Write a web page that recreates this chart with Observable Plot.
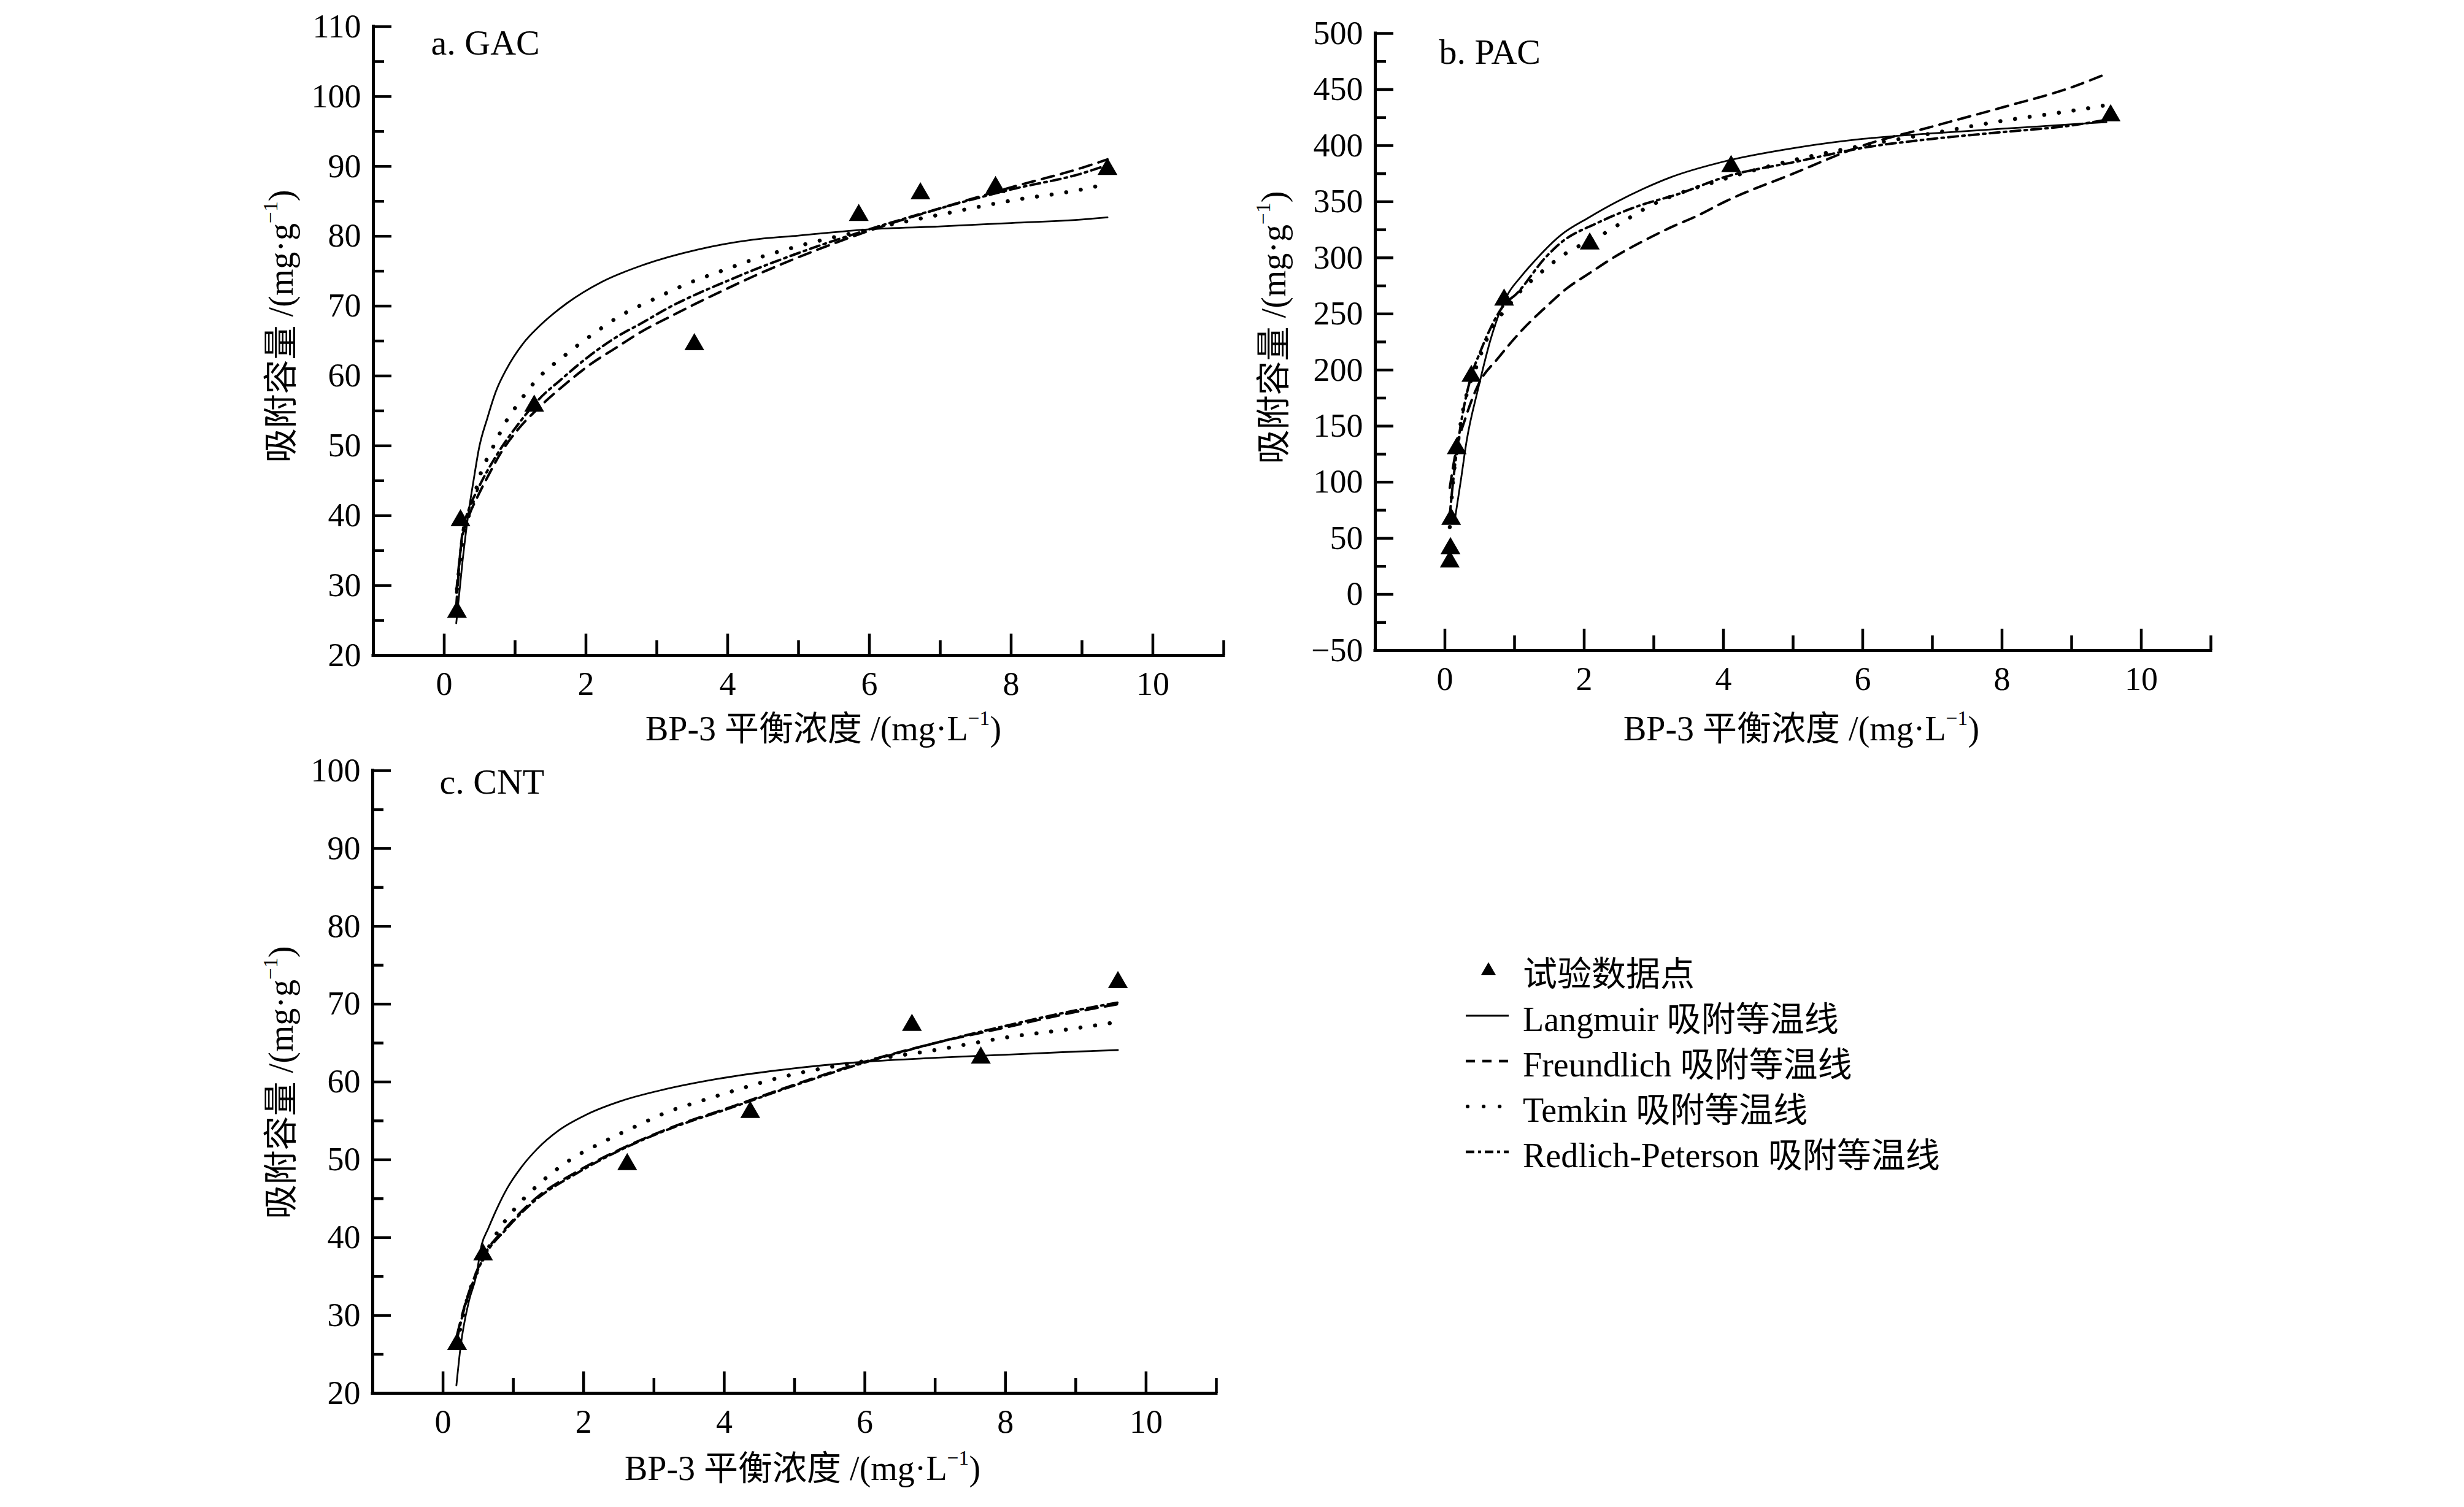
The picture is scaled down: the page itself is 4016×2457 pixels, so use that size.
<!DOCTYPE html>
<html>
<head>
<meta charset="utf-8">
<script src="https://cdn.jsdelivr.net/npm/d3@7"></script>
<script src="https://cdn.jsdelivr.net/npm/@observablehq/plot@0.6"></script>
<style>
  html, body { margin: 0; padding: 0; background: #fff; }
  #root { position: relative; width: 4016px; height: 2457px; background: #fff; overflow: hidden;
          font-family: "Liberation Serif", "Times New Roman", "Noto Sans CJK SC", serif; color: #000; }
  .panel { position: absolute; }
  .axlab { position: absolute; white-space: nowrap; font-size: 56px; line-height: 1; }
  .axlab sup { font-size: 0.6em; vertical-align: 0.75em; line-height: 0; }
  .legrow { position: absolute; left: 2380px; height: 74px; display: flex; align-items: center; font-size: 56px; white-space: nowrap; }
  .legrow svg { flex: none; margin-right: 22px; }
</style>
</head>
<body>
<div id="root"></div>
<script>
// ---------- tick values ----------
const xMajorTicks = [0, 2, 4, 6, 8, 10];
const xMinorTicks = [1, 3, 5, 7, 9, 11];
const aYTicks = [20, 30, 40, 50, 60, 70, 80, 90, 100, 110];
const aYMinor = [25, 35, 45, 55, 65, 75, 85, 95, 105];
const bYTicks = [-50, 0, 50, 100, 150, 200, 250, 300, 350, 400, 450, 500];
const bYMinor = [-25, 25, 75, 125, 175, 225, 275, 325, 375, 425, 475];
const cYTicks = [20, 30, 40, 50, 60, 70, 80, 90, 100];
const cYMinor = [25, 35, 45, 55, 65, 75, 85, 95];

// ---------- a. GAC ----------
const aDataX = [0.18, 0.23, 1.27, 3.53, 5.85, 6.72, 7.78, 9.36];
const aDataY = [26.2, 39.3, 55.7, 64.5, 83.0, 86.1, 87.0, 89.6];
const aLangX = [0.17, 0.26, 0.34, 0.42, 0.49, 0.61, 0.73, 0.88, 1.11, 1.34, 1.73, 2.23, 2.81, 3.58, 4.35, 5, 6, 7, 8, 9, 9.36];
const aLangY = [24.6, 33.6, 40.2, 45.4, 49.6, 54.0, 57.8, 61.0, 64.6, 67.1, 70.4, 73.5, 75.9, 78.1, 79.5, 80.1, 81.0, 81.4, 81.9, 82.4, 82.7];
const aFreuX = [0.17, 0.25, 0.35, 0.46, 0.61, 0.8, 1.03, 1.34, 1.73, 2.04, 2.42, 2.81, 3.19, 3.58, 3.97, 4.35, 5, 6, 7, 8, 9, 9.36];
const aFreuY = [29.0, 36.5, 40.0, 42.5, 45.5, 49.0, 52.2, 55.5, 59.0, 61.5, 64.0, 66.5, 68.5, 70.5, 72.4, 74.2, 77.0, 80.8, 84.0, 87.0, 89.8, 91.0];
const aTemkX = [0.18, 0.25, 0.4, 0.53, 0.65, 0.76, 0.88, 1.02, 1.3, 1.71, 2.1, 2.5, 2.96, 3.43, 3.93, 4.43, 4.93, 6, 7, 8, 9, 9.23];
const aTemkY = [29.5, 35.5, 41.8, 46.5, 49.0, 51.3, 53.6, 55.7, 59.4, 63.0, 66.0, 68.7, 71.0, 73.2, 75.1, 76.9, 78.4, 81.0, 83.1, 85.1, 86.7, 87.2];
const aRPX = [0.17, 0.25, 0.35, 0.46, 0.73, 1.03, 1.34, 1.65, 2.04, 2.42, 2.81, 3.19, 3.58, 3.97, 4.35, 5, 6, 7, 8, 9, 9.36];
const aRPY = [27.0, 37.0, 41.0, 43.5, 48.5, 52.9, 56.7, 59.5, 62.8, 65.5, 67.7, 69.9, 71.8, 73.5, 75.1, 77.6, 81.0, 84.0, 86.7, 89.0, 90.2];

// ---------- b. PAC ----------
const bDataX = [0.07, 0.08, 0.09, 0.17, 0.38, 0.85, 2.08, 4.11, 9.56];
const bDataY = [29, 41, 67, 130, 194.5, 262.5, 312.5, 381.5, 426.8];
const bLangX = [0.15, 0.23, 0.31, 0.48, 0.66, 0.89, 1.09, 1.28, 1.67, 2.07, 2.46, 2.85, 3.24, 4.02, 5.07, 6, 7, 8, 9, 9.5];
const bLangY = [69.5, 102, 136, 184, 228, 266, 283, 296.6, 320.5, 336, 349.6, 361.5, 371.7, 386, 398.4, 406, 411, 415, 419, 421];
const bFreuX = [0.07, 0.15, 0.3, 0.48, 0.77, 1.13, 1.44, 1.75, 2.07, 2.46, 2.85, 3.24, 3.63, 4.02, 5, 6, 7, 8, 9, 9.5];
const bFreuY = [95, 125, 158, 187, 211, 237, 255.6, 272.7, 286, 301.7, 315, 327, 337.6, 350, 375, 400, 417, 434, 452, 464];
const bTemkX = [0.07, 0.1, 0.2, 0.5, 1, 1.38, 1.75, 2.18, 3, 4, 5, 6, 7, 8, 9, 9.5];
const bTemkY = [60, 88, 141, 211, 264, 287, 304.5, 318, 348, 370, 387, 400, 411, 422, 431, 436];
const bRPX = [0.07, 0.1, 0.2, 0.38, 0.5, 0.85, 1.03, 1.44, 1.67, 2.18, 2.77, 3.36, 4.02, 5.07, 6, 7, 8, 9, 9.5];
const bRPY = [70, 90, 140, 195, 215, 258, 268, 300, 313.7, 330.8, 346, 357, 372, 386, 398, 406, 412, 418, 423];

// ---------- c. CNT ----------
const cDataX = [0.2, 0.57, 2.62, 4.37, 6.67, 7.65, 9.6];
const cDataY = [26.3, 37.8, 49.4, 56.1, 67.3, 63.1, 72.8];
const cLangX = [0.19, 0.25, 0.37, 0.47, 0.55, 0.64, 0.76, 0.91, 1.11, 1.34, 1.65, 2.04, 2.55, 3.13, 3.91, 4.95, 6, 7, 8, 9, 9.6];
const cLangY = [21, 26, 31.9, 35, 39.1, 41.1, 43.6, 46.3, 49, 51.4, 53.8, 55.8, 57.6, 59, 60.4, 61.7, 62.6, 63.1, 63.5, 63.9, 64.1];
const cFreuX = [0.2, 0.3, 0.45, 0.56, 0.91, 1.34, 1.89, 2.51, 3.29, 4.07, 4.95, 6, 7, 8, 9, 9.6];
const cFreuY = [27.5, 31, 35, 37.3, 41.4, 45.2, 48.4, 51.3, 54.3, 56.7, 59.5, 62.6, 65, 67, 69, 70];
const cTemkX = [0.2, 0.35, 0.525, 0.74, 1.03, 1.38, 1.81, 2.28, 2.74, 3.21, 3.72, 4.22, 4.72, 6, 7, 8, 9, 9.6];
const cTemkY = [26.3, 32.3, 36.4, 40.2, 43.8, 47, 50, 52.3, 54.3, 56.2, 57.7, 59.1, 60.4, 62.7, 64.1, 65.7, 66.9, 67.7];
const cRPX = [0.2, 0.3, 0.45, 0.56, 0.91, 1.34, 1.89, 2.51, 3.29, 4.07, 4.95, 6, 7, 8, 9, 9.6];
const cRPY = [27, 30.8, 34.8, 37.1, 41.2, 45, 48.2, 51.2, 54.2, 56.6, 59.4, 62.5, 65, 67.2, 69.2, 70.2];

const seriesNames = ["试验数据点", "Langmuir 吸附等温线", "Freundlich 吸附等温线", "Temkin 吸附等温线", "Redlich-Peterson 吸附等温线"];

// ---------- styles ----------
const FONT = '"Liberation Serif","Times New Roman","Noto Sans CJK SC",serif';
const tickFmt = d3.format("d");
const MARKER_R = 12;
const lineStyles = {
  lang: {strokeWidth: 2.8},
  freu: {strokeWidth: 4, strokeDasharray: "20 12"},
  temk: {strokeWidth: 6.5, strokeDasharray: "0.1 24", strokeLinecap: "round"},
  rp:   {strokeWidth: 4, strokeDasharray: "16 7 4 7"}
};
const zip = (xs, ys) => xs.map((x, i) => [x, ys[i]]);

function makePanel(cfg) {
  const curve = (xs, ys, st) => Plot.line(zip(xs, ys), {x: d => d[0], y: d => d[1], curve: "monotone-x", stroke: "#000", ...st});
  return Plot.plot({
    width: cfg.w, height: cfg.h,
    marginLeft: cfg.ml, marginRight: cfg.mr, marginTop: cfg.mt, marginBottom: cfg.mb,
    x: {domain: [-1, 11], label: null},
    y: {domain: cfg.yDomain, label: null},
    style: {fontFamily: FONT, fontSize: "54px", background: "transparent", overflow: "visible", color: "#000", maxWidth: "none"},
    marks: [
      Plot.axisY(cfg.yMinor, {tickSize: -18, tickFormat: () => "", strokeWidth: 4.5, label: null}),
      Plot.axisY(cfg.yMajor, {tickSize: -30, tickPadding: 50, tickFormat: tickFmt, strokeWidth: 4.5, label: null, fontSize: 54}),
      Plot.axisX(xMinorTicks, {tickSize: -24, tickFormat: () => "", strokeWidth: 4.5, label: null}),
      Plot.axisX(xMajorTicks, {tickSize: -35, tickPadding: 61, tickFormat: tickFmt, strokeWidth: 4.5, label: null, fontSize: 54}),
      Plot.ruleX([-1], {stroke: "#000", strokeWidth: 5, strokeLinecap: "square"}),
      Plot.ruleY([cfg.yDomain[0]], {stroke: "#000", strokeWidth: 5, strokeLinecap: "square"}),
      curve(cfg.langX, cfg.langY, lineStyles.lang),
      curve(cfg.freuX, cfg.freuY, lineStyles.freu),
      curve(cfg.temkX, cfg.temkY, lineStyles.temk),
      curve(cfg.rpX, cfg.rpY, lineStyles.rp),
      Plot.dot(zip(cfg.dataX, cfg.dataY), {x: d => d[0], y: d => d[1], symbol: "triangle", r: MARKER_R, fill: "#000", stroke: "none"}),
      Plot.text([cfg.label], {frameAnchor: "top-left", dx: cfg.ldx, dy: cfg.ldy, textAnchor: "start", lineAnchor: "middle", fontSize: 58})
    ]
  });
}

const root = document.getElementById("root");
function place(svg, left, top) {
  const d = document.createElement("div");
  d.className = "panel";
  d.style.left = left + "px"; d.style.top = top + "px";
  d.appendChild(svg);
  root.appendChild(d);
}

place(makePanel({w: 2100, h: 1240, ml: 608, mr: 106, mt: 43, mb: 172, yDomain: [20, 110], yMajor: aYTicks, yMinor: aYMinor,
  dataX: aDataX, dataY: aDataY, langX: aLangX, langY: aLangY, freuX: aFreuX, freuY: aFreuY, temkX: aTemkX, temkY: aTemkY, rpX: aRPX, rpY: aRPY,
  label: "a. GAC", ldx: 94, ldy: 27}), 0, 0);

place(makePanel({w: 1900, h: 1240, ml: 341, mr: 197, mt: 54, mb: 180, yDomain: [-50, 500], yMajor: bYTicks, yMinor: bYMinor,
  dataX: bDataX, dataY: bDataY, langX: bLangX, langY: bLangY, freuX: bFreuX, freuY: bFreuY, temkX: bTemkX, temkY: bTemkY, rpX: bRPX, rpY: bRPY,
  label: "b. PAC", ldx: 104, ldy: 31}), 1900, 0);

place(makePanel({w: 2100, h: 1180, ml: 607, mr: 118, mt: 56, mb: 109, yDomain: [20, 100], yMajor: cYTicks, yMinor: cYMinor,
  dataX: cDataX, dataY: cDataY, langX: cLangX, langY: cLangY, freuX: cFreuX, freuY: cFreuY, temkX: cTemkX, temkY: cTemkY, rpX: cRPX, rpY: cRPY,
  label: "c. CNT", ldx: 109, ldy: 19}), 0, 1200);

// ---------- axis titles ----------
function axisLabel(html, cx, cy, rotate) {
  const d = document.createElement("div");
  d.className = "axlab";
  d.innerHTML = html;
  d.style.left = cx + "px"; d.style.top = cy + "px";
  d.style.transform = "translate(-50%,-50%)" + (rotate ? " rotate(-90deg)" : "");
  root.appendChild(d);
}
const xTitle = "BP-3 平衡浓度 /(mg·L<sup>−1</sup>)";
const yTitle = "吸附容量 /(mg·g<sup>−1</sup>)";
axisLabel(xTitle, 1342, 1188, false);
axisLabel(xTitle, 2936, 1188, false);
axisLabel(xTitle, 1308, 2394, false);
axisLabel(yTitle, 458, 532, true);
axisLabel(yTitle, 2076, 534, true);
axisLabel(yTitle, 458, 1765, true);

// ---------- legend ----------
const legendCenters = [1582, 1656, 1730, 1804, 1878];
const legendKeys = ["pt", "lang", "freu", "temk", "rp"];
legendKeys.forEach((k, i) => {
  const row = document.createElement("div");
  row.className = "legrow";
  row.style.top = (legendCenters[i] - 37) + "px";
  const ns = "http://www.w3.org/2000/svg";
  const svg = document.createElementNS(ns, "svg");
  svg.setAttribute("width", 80); svg.setAttribute("height", 30);
  if (k === "pt") {
    const sym = d3.symbol(d3.symbolTriangle, Math.PI * 10.5 * 10.5 * 0.75)();
    const p = document.createElementNS(ns, "path");
    p.setAttribute("d", sym); p.setAttribute("transform", "translate(46,16)"); p.setAttribute("fill", "#000");
    svg.appendChild(p);
  } else {
    const l = document.createElementNS(ns, "line");
    l.setAttribute("x1", 9); l.setAttribute("x2", 79); l.setAttribute("y1", 15); l.setAttribute("y2", 15);
    l.setAttribute("stroke", "#000");
    l.setAttribute("stroke-width", k === "lang" ? 3 : (k === "temk" ? 6 : 4.5));
    if (k === "freu") l.setAttribute("stroke-dasharray", "15 12");
    if (k === "temk") { l.setAttribute("stroke-dasharray", "0.1 26"); l.setAttribute("stroke-linecap", "round"); l.setAttribute("x1", 12); }
    if (k === "rp") l.setAttribute("stroke-dasharray", "14 6 5 6");
    svg.appendChild(l);
  }
  row.appendChild(svg);
  const t = document.createElement("span");
  t.textContent = seriesNames[i];
  row.appendChild(t);
  root.appendChild(row);
});
</script>
</body>
</html>
